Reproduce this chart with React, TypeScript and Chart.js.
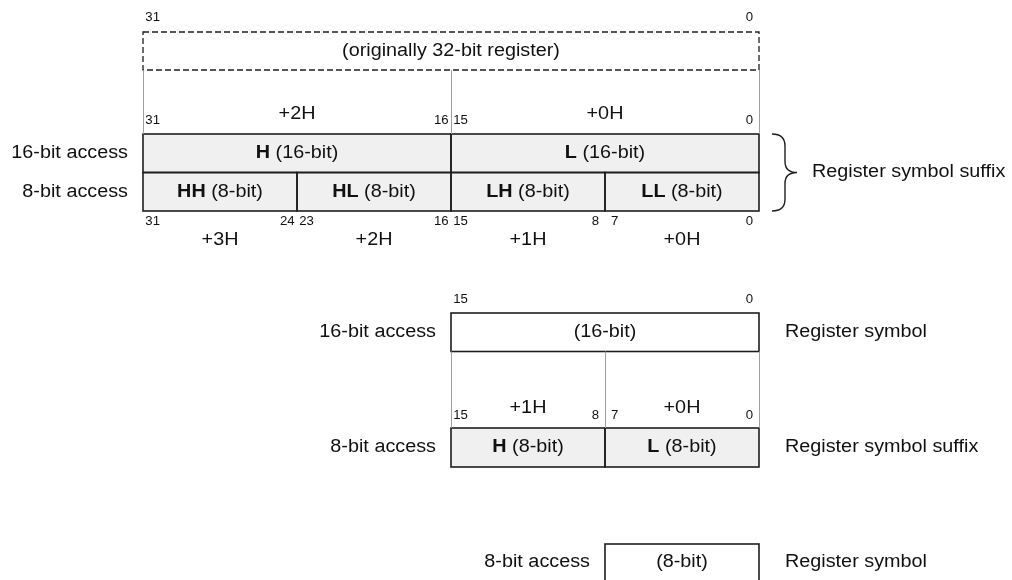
import React, { useEffect, useRef } from "react";
import { Chart, registerables } from "chart.js";

Chart.register(...registerables);

// ---------------- data ----------------
// Upper diagram: a register that was originally 32 bits wide
const originalRegisterBits: [number, number] = [31, 0];
const originalRegisterText = "(originally 32-bit register)";
// 16-bit access units
const wordNames = ["H", "L"];
const wordBits: [number, number][] = [[31, 16], [15, 0]];
const wordOffsets = ["+2H", "+0H"];
const wordTag = "(16-bit)";
// 8-bit access units
const byteNames = ["HH", "HL", "LH", "LL"];
const byteBits: [number, number][] = [[31, 24], [23, 16], [15, 8], [7, 0]];
const byteOffsets = ["+3H", "+2H", "+1H", "+0H"];
const byteTag = "(8-bit)";

// Lower diagrams: a 16-bit register and an 8-bit register
const reg16Bits: [number, number][] = [[15, 0]];
const reg16ByteNames = ["H", "L"];
const reg16ByteBits: [number, number][] = [[15, 8], [7, 0]];
const reg16ByteOffsets = ["+1H", "+0H"];
const reg8Bits: [number, number][] = [[7, 0]];

const access16Label = "16-bit access";
const access8Label = "8-bit access";
const suffixLabel = "Register symbol suffix";
const symbolLabel = "Register symbol";

// ---------------- layout & style ----------------
const W = 1012;
const H = 580;
const X_MIN = -13.143; // bit-axis extent (reversed: bit 31 on the left)
const X_MAX = 39.4286;
const BAND = {
  dashed: [32, 70],
  topWord: [134, 172.5],
  topByte: [172.5, 211],
  botWord: [313, 351.5],
  botByte: [428, 467],
  botSingle: [544, 583],
};
const GRAY = "#f0f0f0";
const WHITE = "#ffffff";
const INK = "#111111";
const LINE = "#1e1e1e";
const THIN = "#a0a0a0";
const FONT = "'Liberation Sans', Arial, sans-serif";
const BIG = 18;
const SMALL = 12;
const SX = 1.1;

type Part = { t: string; bold?: boolean };

function drawRich(
  ctx: CanvasRenderingContext2D,
  parts: Part[],
  x: number,
  y: number,
  align: "left" | "center" | "right",
  size: number
) {
  const widths = parts.map((p) => {
    ctx.font = `${p.bold ? "bold " : ""}${size}px ${FONT}`;
    return ctx.measureText(p.t).width * SX;
  });
  const total = widths.reduce((a, b) => a + b, 0);
  let start = align === "center" ? x - total / 2 : align === "right" ? x - total : x;
  parts.forEach((p, i) => {
    ctx.save();
    ctx.font = `${p.bold ? "bold " : ""}${size}px ${FONT}`;
    ctx.fillStyle = INK;
    ctx.textAlign = "left";
    ctx.textBaseline = "middle";
    ctx.translate(start, y);
    ctx.scale(SX, 1);
    ctx.fillText(p.t, 0, 0);
    ctx.restore();
    start += widths[i];
  });
}

const rows = [
  { band: BAND.topWord, fields: wordBits, fill: GRAY },
  { band: BAND.topByte, fields: byteBits, fill: GRAY },
  { band: BAND.botWord, fields: reg16Bits, fill: WHITE },
  { band: BAND.botByte, fields: reg16ByteBits, fill: GRAY },
  { band: BAND.botSingle, fields: reg8Bits, fill: WHITE },
];

const diagramPlugin = {
  id: "registerDiagram",
  afterDatasetsDraw(chart: any) {
    const ctx: CanvasRenderingContext2D = chart.ctx;
    const xs = chart.scales.x;
    const ys = chart.scales.y;
    const px = (b: number) => xs.getPixelForValue(b);
    const py = (v: number) => ys.getPixelForValue(v);
    const mid = (f: [number, number]) => px((f[1] + f[0] + 1) / 2);
    const bitCenter = (b: number) => px(b + 0.5);

    ctx.save();
    // outlines of every cell drawn by the bar elements
    ctx.strokeStyle = LINE;
    ctx.lineWidth = 1.6;
    chart.data.datasets.forEach((_: any, di: number) => {
      chart.getDatasetMeta(di).data.forEach((el: any) => {
        const p = el.getProps(["x", "y", "base", "height"], true);
        const l = Math.min(p.x, p.base);
        const w = Math.abs(p.x - p.base);
        ctx.strokeRect(l, p.y - p.height / 2, w, p.height);
      });
    });

    // dashed original register
    const [oh, ol] = originalRegisterBits;
    ctx.setLineDash([6, 3]);
    ctx.lineWidth = 1.3;
    ctx.strokeRect(px(oh + 1), py(BAND.dashed[0]), px(ol) - px(oh + 1), py(BAND.dashed[1]) - py(BAND.dashed[0]));
    ctx.setLineDash([]);

    // thin connector lines
    ctx.strokeStyle = THIN;
    ctx.lineWidth = 1;
    const vline = (b: number, y0: number, y1: number) => {
      ctx.beginPath();
      ctx.moveTo(Math.round(px(b)) + 0.5, py(y0));
      ctx.lineTo(Math.round(px(b)) + 0.5, py(y1));
      ctx.stroke();
    };
    [32, 16, 0].forEach((b) => vline(b, BAND.dashed[1], BAND.topWord[0]));
    [16, 8, 0].forEach((b) => vline(b, BAND.botWord[1], BAND.botByte[0]));

    // brace
    const bx = px(0);
    const bt = py(BAND.topWord[0]);
    const bb = py(BAND.topByte[1]);
    const bm = (bt + bb) / 2;
    ctx.strokeStyle = LINE;
    ctx.lineWidth = 1.4;
    ctx.beginPath();
    ctx.moveTo(bx + 13, bt);
    ctx.quadraticCurveTo(bx + 26, bt, bx + 26, bt + 12);
    ctx.lineTo(bx + 26, bm - 11);
    ctx.quadraticCurveTo(bx + 26, bm, bx + 38, bm);
    ctx.quadraticCurveTo(bx + 26, bm, bx + 26, bm + 11);
    ctx.lineTo(bx + 26, bb - 12);
    ctx.quadraticCurveTo(bx + 26, bb, bx + 13, bb);
    ctx.stroke();
    ctx.restore();

    const bitLabels = (fields: [number, number][], y: number) => {
      fields.forEach(([hi, lo]) => {
        drawRich(ctx, [{ t: String(hi) }], bitCenter(hi), py(y), "center", SMALL);
        drawRich(ctx, [{ t: String(lo) }], bitCenter(lo), py(y), "center", SMALL);
      });
    };
    const offsetLabels = (fields: [number, number][], offs: string[], y: number) => {
      fields.forEach((f, i) => drawRich(ctx, [{ t: offs[i] }], mid(f), py(y), "center", BIG));
    };
    const cellLabels = (fields: [number, number][], names: string[] | null, tag: string, band: number[]) => {
      const yc = py((band[0] + band[1]) / 2);
      fields.forEach((f, i) => {
        const parts: Part[] = names ? [{ t: names[i], bold: true }, { t: " " + tag }] : [{ t: tag }];
        drawRich(ctx, parts, mid(f), yc, "center", BIG);
      });
    };
    const rowLabel = (text: string, leftBit: number, band: number[]) =>
      drawRich(ctx, [{ t: text }], px(leftBit) - 15, py((band[0] + band[1]) / 2), "right", BIG);

    // upper diagram texts
    bitLabels([originalRegisterBits], BAND.dashed[0] - 14);
    drawRich(ctx, [{ t: originalRegisterText }], mid(originalRegisterBits), py((BAND.dashed[0] + BAND.dashed[1]) / 2), "center", BIG);
    bitLabels(wordBits, BAND.topWord[0] - 13.5);
    offsetLabels(wordBits, wordOffsets, BAND.topWord[0] - 19.5);
    cellLabels(wordBits, wordNames, wordTag, BAND.topWord);
    cellLabels(byteBits, byteNames, byteTag, BAND.topByte);
    bitLabels(byteBits, BAND.topByte[1] + 11);
    offsetLabels(byteBits, byteOffsets, BAND.topByte[1] + 29);
    rowLabel(access16Label, 31 + 1, BAND.topWord);
    rowLabel(access8Label, 31 + 1, BAND.topByte);
    drawRich(ctx, [{ t: suffixLabel }], px(0) + 53, py((BAND.topWord[0] + BAND.topByte[1]) / 2), "left", BIG);

    // 16-bit register
    bitLabels(reg16Bits, BAND.botWord[0] - 13.5);
    cellLabels(reg16Bits, null, wordTag, BAND.botWord);
    rowLabel(access16Label, reg16Bits[0][0] + 1, BAND.botWord);
    drawRich(ctx, [{ t: symbolLabel }], px(0) + 26, py((BAND.botWord[0] + BAND.botWord[1]) / 2), "left", BIG);
    bitLabels(reg16ByteBits, BAND.botByte[0] - 12.5);
    offsetLabels(reg16ByteBits, reg16ByteOffsets, BAND.botByte[0] - 19.5);
    cellLabels(reg16ByteBits, reg16ByteNames, byteTag, BAND.botByte);
    rowLabel(access8Label, reg16ByteBits[0][0] + 1, BAND.botByte);
    drawRich(ctx, [{ t: suffixLabel }], px(0) + 26, py((BAND.botByte[0] + BAND.botByte[1]) / 2), "left", BIG);

    // 8-bit register
    cellLabels(reg8Bits, null, byteTag, [BAND.botSingle[0], BAND.botSingle[0] + 37]);
    rowLabel(access8Label, reg8Bits[0][0] + 1, [BAND.botSingle[0], BAND.botSingle[0] + 37]);
    drawRich(ctx, [{ t: symbolLabel }], px(0) + 26, py(BAND.botSingle[0] + 18.5), "left", BIG);
  },
};

export default function App() {
  const ref = useRef<HTMLCanvasElement | null>(null);
  useEffect(() => {
    if (!ref.current) return;
    const chart = new Chart(ref.current, {
      type: "bar",
      data: {
        datasets: rows.map((r) => ({
          data: r.fields.map(([hi, lo]) => ({ x: [lo, hi + 1], y: (r.band[0] + r.band[1]) / 2 })),
          backgroundColor: r.fill,
          borderWidth: 0,
          barThickness: r.band[1] - r.band[0],
          grouped: false,
        })) as any,
      },
      options: {
        indexAxis: "y",
        animation: false,
        responsive: false,
        maintainAspectRatio: false,
        layout: { padding: 0 },
        plugins: { legend: { display: false }, tooltip: { enabled: false }, title: { display: false } },
        scales: {
          x: { type: "linear", min: X_MIN, max: X_MAX, reverse: true, display: false, offset: false },
          y: { type: "linear", min: 0, max: H, reverse: true, display: false, offset: false },
        },
      },
      plugins: [diagramPlugin],
    });
    return () => chart.destroy();
  }, []);
  return (
    <div style={{ position: "fixed", left: 0, top: 0, width: W, height: H, background: "#fff" }}>
      <canvas ref={ref} width={W} height={H} style={{ display: "block" }} />
    </div>
  );
}
